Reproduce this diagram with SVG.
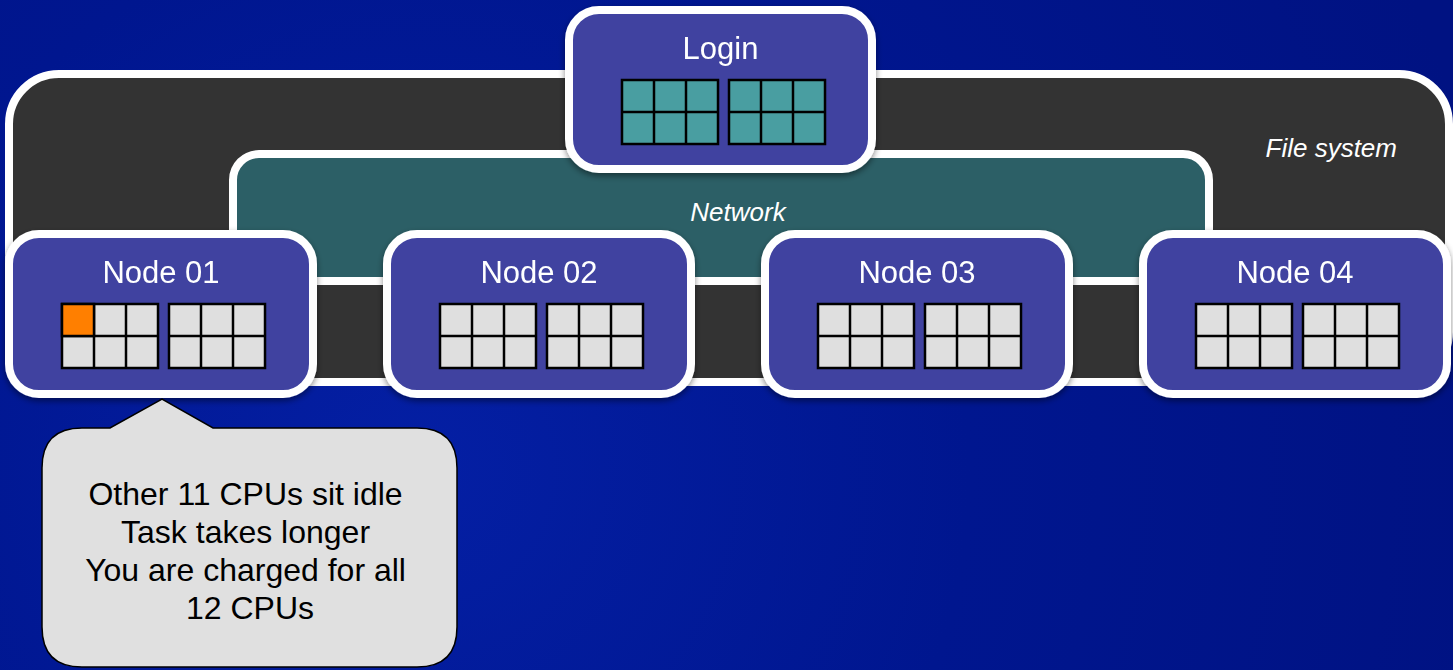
<svg xmlns="http://www.w3.org/2000/svg" width="1453" height="670" viewBox="0 0 1453 670">
  <defs>
    <radialGradient id="bg" cx="420" cy="470" r="1100" gradientUnits="userSpaceOnUse">
      <stop offset="0" stop-color="#041FA4"/>
      <stop offset="0.5" stop-color="#00168F"/>
      <stop offset="1" stop-color="#001282"/>
    </radialGradient>
    <filter id="shadow" x="-10%" y="-10%" width="120%" height="130%">
      <feDropShadow dx="0" dy="3" stdDeviation="3" flood-color="#000" flood-opacity="0.45"/>
    </filter>
    <!-- one CPU socket: 3x2 cores -->
    <g id="socket">
      <rect x="0" y="0" width="96" height="64" class="cellbox"/>
      <line x1="32" y1="0" x2="32" y2="64" class="grid"/>
      <line x1="64" y1="0" x2="64" y2="64" class="grid"/>
      <line x1="0" y1="32" x2="96" y2="32" class="grid"/>
    </g>
  </defs>
  <style>
    .frame { stroke: #FFFFFF; stroke-width: 8; }
    .fs { fill: #333333; }
    .net { fill: #2C5F66; }
    .node { fill: #3F43A0; }
    .cellbox { stroke: #000; stroke-width: 2.5; }
    .grid { stroke: #000; stroke-width: 2.5; }
    .idle { fill: #DFDFDF; }
    .login-cpu { fill: #4A9EA1; }
    .busy { fill: #FF7F00; }
    .title { font-family: "Liberation Sans", Arial, sans-serif; font-size: 31px; fill: #FFFFFF; text-anchor: middle; }
    .label { font-family: "Liberation Sans", Arial, sans-serif; font-size: 26px; font-style: italic; fill: #FFFFFF; }
    .note { font-family: "Liberation Sans", Arial, sans-serif; font-size: 32px; fill: #000000; text-anchor: middle; }
  </style>

  <rect x="0" y="0" width="1453" height="670" fill="url(#bg)"/>

  <!-- shared storage -->
  <g id="filesystem">
    <rect x="9" y="74" width="1440" height="308" rx="50" class="frame fs"/>
    <text x="1397" y="157" class="label" text-anchor="end">File system</text>
  </g>

  <!-- interconnect -->
  <g id="network">
    <rect x="233" y="154" width="976" height="127" rx="26" class="frame net"/>
    <text x="738" y="221" class="label" text-anchor="middle">Network</text>
  </g>

  <!-- no connectors between boxes; kept for structure -->
  <g id="connectors"></g>

  <g id="login" filter="url(#shadow)">
    <rect x="569" y="10" width="303" height="159" rx="30" class="frame node"/>
    <text x="720.5" y="59" class="title">Login</text>
    <use href="#socket" x="622" y="80" class="login-cpu"/>
    <use href="#socket" x="729" y="80" class="login-cpu"/>
  </g>

  <g id="node01" filter="url(#shadow)">
    <rect x="9" y="234" width="304" height="160" rx="30" class="frame node"/>
    <text x="161" y="283" class="title">Node 01</text>
    <use href="#socket" x="62" y="304" class="idle"/>
    <rect x="62" y="304" width="32" height="32" class="busy cellbox"/>
    <use href="#socket" x="169" y="304" class="idle"/>
  </g>

  <g id="node02" filter="url(#shadow)">
    <rect x="387" y="234" width="304" height="160" rx="30" class="frame node"/>
    <text x="539" y="283" class="title">Node 02</text>
    <use href="#socket" x="440" y="304" class="idle"/>
    <use href="#socket" x="547" y="304" class="idle"/>
  </g>

  <g id="node03" filter="url(#shadow)">
    <rect x="765" y="234" width="304" height="160" rx="30" class="frame node"/>
    <text x="917" y="283" class="title">Node 03</text>
    <use href="#socket" x="818" y="304" class="idle"/>
    <use href="#socket" x="925" y="304" class="idle"/>
  </g>

  <g id="node04" filter="url(#shadow)">
    <rect x="1143" y="234" width="304" height="160" rx="30" class="frame node"/>
    <text x="1295" y="283" class="title">Node 04</text>
    <use href="#socket" x="1196" y="304" class="idle"/>
    <use href="#socket" x="1303" y="304" class="idle"/>
  </g>

  <!-- speech bubble pointing at Node 01 -->
  <g id="callout">
    <path d="M 82 428 L 110 428 L 162 399 L 213 428 L 417 428 Q 457 428 457 468 L 457 627 Q 457 667 417 667 L 82 667 Q 42 667 42 627 L 42 468 Q 42 428 82 428 Z"
          fill="#E0E0E0" stroke="#000" stroke-width="1.5"/>
    <text class="note">
      <tspan x="250" y="505">Other 11 CPUs sit idle</tspan>
      <tspan x="250" y="543">Task takes longer</tspan>
      <tspan x="250" y="581">You are charged for all</tspan>
      <tspan x="250" y="619">12 CPUs</tspan>
    </text>
  </g>
</svg>
